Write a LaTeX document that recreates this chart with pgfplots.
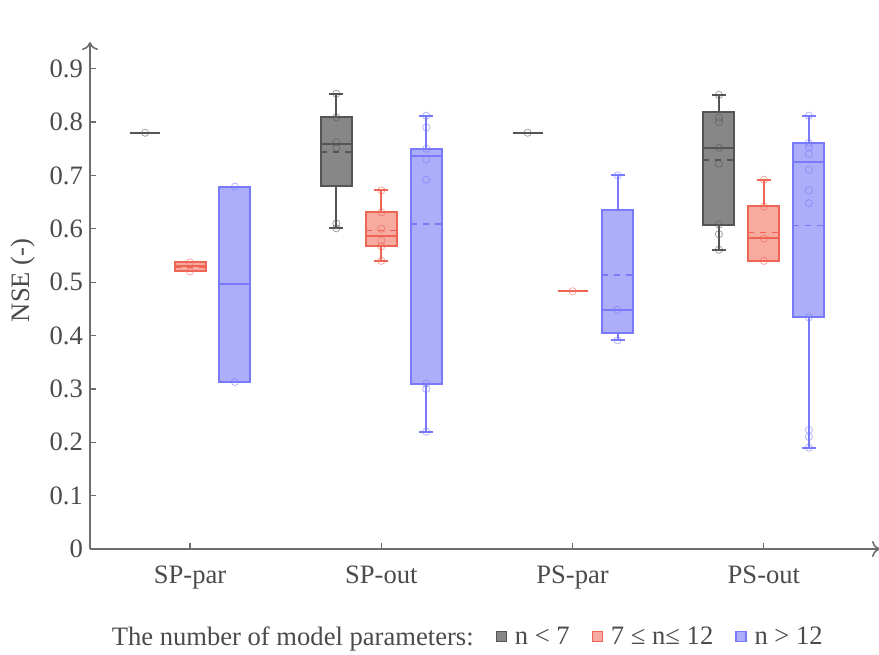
\documentclass[border=0pt]{standalone}
\usepackage{fontspec}
\setmainfont{Liberation Serif}
\usepackage{pgfplots}
\pgfplotsset{compat=1.18}
\usepgfplotslibrary{statistics}
\usetikzlibrary{arrows.meta}

\definecolor{gfill}{RGB}{135,135,135}
\definecolor{gedge}{RGB}{85,85,85}
\definecolor{rfill}{RGB}{246,170,160}
\definecolor{redge}{RGB}{238,100,85}
\definecolor{bfill}{RGB}{172,174,250}
\definecolor{bedge}{RGB}{120,122,250}
\definecolor{axgray}{RGB}{110,110,110}
\definecolor{txtgray}{RGB}{75,75,75}
\newcommand\chartfont{\fontsize{13.3}{16}\selectfont}

\pgfplotsset{
  gbox/.style={draw=gedge, fill=gfill, line width=1pt, solid},
  rbox/.style={draw=redge, fill=rfill, line width=1pt, solid},
  bbox/.style={draw=bedge, fill=bfill, line width=1pt, solid},
  gpts/.style={only marks, mark=o, mark size=1.8pt, gedge, opacity=0.55, forget plot},
  rpts/.style={only marks, mark=o, mark size=1.8pt, redge, opacity=0.55, forget plot},
  bpts/.style={only marks, mark=o, mark size=1.8pt, bedge, opacity=0.55, forget plot},
}

\begin{document}
\begin{tikzpicture}
\begin{axis}[
  scale only axis, width=395pt, height=253.5pt,
  xmin=0.477, xmax=4.607, ymin=0, ymax=0.95,
  axis lines=left,
  axis line style={axgray, line width=0.8pt, -{To[length=4pt,width=8pt]}},
  xtick={1,2,3,4},
  xticklabels={SP-par,SP-out,PS-par,PS-out},
  ytick={0,0.1,0.2,0.3,0.4,0.5,0.6,0.7,0.8,0.9},
  yticklabel style={/pgf/number format/fixed, /pgf/number format/precision=1},
  /pgf/number format/assume math mode=true,
  tick align=inside, major tick length=3pt,
  tick style={axgray, line width=0.6pt},
  ticklabel style={font=\chartfont, text=txtgray},
  xticklabel style={yshift=-5pt},
  ylabel={NSE (-)},
  every axis y label/.style={at={(axis description cs:-0.085,0.53)}, rotate=90, anchor=center, font=\chartfont, text=txtgray},
  clip=false,
  boxplot/draw direction=y,
  boxplot/box extend=0.162,
  boxplot/whisker extend=0.073,
  legend columns=-1,
  legend style={draw=none, fill=none, font=\chartfont, text=txtgray,
    at={(axis description cs:0.475,-0.174)}, anchor=center,
    /tikz/every even column/.append style={column sep=9pt},
    /tikz/every odd column/.append style={column sep=2pt}},
]
% ---------------- SP-par (x = 1)
\addplot[gedge, line width=1pt, forget plot] coordinates {(0.687,0.780) (0.843,0.780)};
\addplot[gpts] coordinates {(0.765,0.780)};
\addplot[rbox, forget plot, boxplot prepared={lower whisker=0.520, lower quartile=0.520, median=0.530, upper quartile=0.537, upper whisker=0.537, draw position=1.0}] coordinates {};
\addplot[redge, dashed, line width=0.7pt, forget plot] coordinates {(0.919,0.527) (1.081,0.527)};
\addplot[rpts] coordinates {(1.0,0.537) (1.0,0.520)};
\addplot[bbox, forget plot, boxplot prepared={lower whisker=0.313, lower quartile=0.313, median=0.496, upper quartile=0.679, upper whisker=0.679, draw position=1.235}] coordinates {};
\addplot[bpts] coordinates {(1.235,0.679) (1.235,0.313)};
% ---------------- SP-out (x = 2)
\addplot[gbox, forget plot, boxplot prepared={lower whisker=0.601, lower quartile=0.680, median=0.758, upper quartile=0.809, upper whisker=0.853, draw position=1.765}] coordinates {};
\addplot[gedge, dashed, line width=0.8pt, forget plot] coordinates {(1.684,0.744) (1.846,0.744)};
\addplot[gpts] coordinates {(1.765,0.853) (1.765,0.809) (1.765,0.762) (1.765,0.752) (1.765,0.610) (1.765,0.601)};
\addplot[rbox, forget plot, boxplot prepared={lower whisker=0.540, lower quartile=0.567, median=0.586, upper quartile=0.631, upper whisker=0.672, draw position=2.0}] coordinates {};
\addplot[redge, dashed, line width=0.8pt, forget plot] coordinates {(1.919,0.597) (2.081,0.597)};
\addplot[rpts] coordinates {(2.0,0.672) (2.0,0.631) (2.0,0.600) (2.0,0.578) (2.0,0.567) (2.0,0.540)};
\addplot[bbox, forget plot, boxplot prepared={lower whisker=0.220, lower quartile=0.310, median=0.737, upper quartile=0.750, upper whisker=0.812, draw position=2.235}] coordinates {};
\addplot[bedge, dashed, line width=0.8pt, forget plot] coordinates {(2.154,0.609) (2.316,0.609)};
\addplot[bpts] coordinates {(2.235,0.812) (2.235,0.790) (2.235,0.750) (2.235,0.730) (2.235,0.692) (2.235,0.310) (2.235,0.300) (2.235,0.220)};
% ---------------- PS-par (x = 3)
\addplot[gedge, line width=1pt, forget plot] coordinates {(2.687,0.780) (2.843,0.780)};
\addplot[gpts] coordinates {(2.765,0.780)};
\addplot[redge, line width=1pt, forget plot] coordinates {(2.922,0.483) (3.078,0.483)};
\addplot[rpts] coordinates {(3.0,0.483)};
\addplot[bbox, forget plot, boxplot prepared={lower whisker=0.391, lower quartile=0.405, median=0.448, upper quartile=0.636, upper whisker=0.700, draw position=3.235}] coordinates {};
\addplot[bedge, dashed, line width=0.8pt, forget plot] coordinates {(3.154,0.513) (3.316,0.513)};
\addplot[bpts] coordinates {(3.235,0.700) (3.235,0.448) (3.235,0.391)};
% ---------------- PS-out (x = 4)
\addplot[gbox, forget plot, boxplot prepared={lower whisker=0.561, lower quartile=0.608, median=0.751, upper quartile=0.818, upper whisker=0.851, draw position=3.765}] coordinates {};
\addplot[gedge, dashed, line width=0.8pt, forget plot] coordinates {(3.684,0.729) (3.846,0.729)};
\addplot[gpts] coordinates {(3.765,0.851) (3.765,0.808) (3.765,0.800) (3.765,0.752) (3.765,0.722) (3.765,0.608) (3.765,0.590) (3.765,0.561)};
\addplot[rbox, forget plot, boxplot prepared={lower whisker=0.540, lower quartile=0.540, median=0.582, upper quartile=0.642, upper whisker=0.692, draw position=4.0}] coordinates {};
\addplot[redge, dashed, line width=0.8pt, forget plot] coordinates {(3.919,0.593) (4.081,0.593)};
\addplot[rpts] coordinates {(4.0,0.692) (4.0,0.642) (4.0,0.582) (4.0,0.540)};
\addplot[bbox, forget plot, boxplot prepared={lower whisker=0.190, lower quartile=0.434, median=0.725, upper quartile=0.761, upper whisker=0.812, draw position=4.235}] coordinates {};
\addplot[bedge, dashed, line width=0.8pt, forget plot] coordinates {(4.154,0.606) (4.316,0.606)};
\addplot[bpts] coordinates {(4.235,0.812) (4.235,0.761) (4.235,0.753) (4.235,0.740) (4.235,0.711) (4.235,0.672) (4.235,0.648) (4.235,0.434) (4.235,0.223) (4.235,0.210) (4.235,0.190)};
% ---------------- legend
\addlegendimage{empty legend}
\addlegendentry{The number of model parameters:}
\addlegendimage{legend image code/.code={\draw[draw=gedge,fill=gfill,line width=0.6pt] (0pt,-2.3pt) rectangle (5pt,2.7pt);}}
\addlegendentry{n < 7}
\addlegendimage{legend image code/.code={\draw[draw=redge,fill=rfill,line width=0.6pt] (0pt,-2.3pt) rectangle (5pt,2.7pt);}}
\addlegendentry{7 ≤ n≤ 12}
\addlegendimage{legend image code/.code={\draw[draw=bedge,fill=bfill,line width=0.6pt] (0pt,-2.3pt) rectangle (5pt,2.7pt);}}
\addlegendentry{n > 12}
\end{axis}
\pgfresetboundingbox
\path (current axis.south west) ++(-45pt,-52.5pt) rectangle ++(439.5pt,327pt);
\end{tikzpicture}
\end{document}
